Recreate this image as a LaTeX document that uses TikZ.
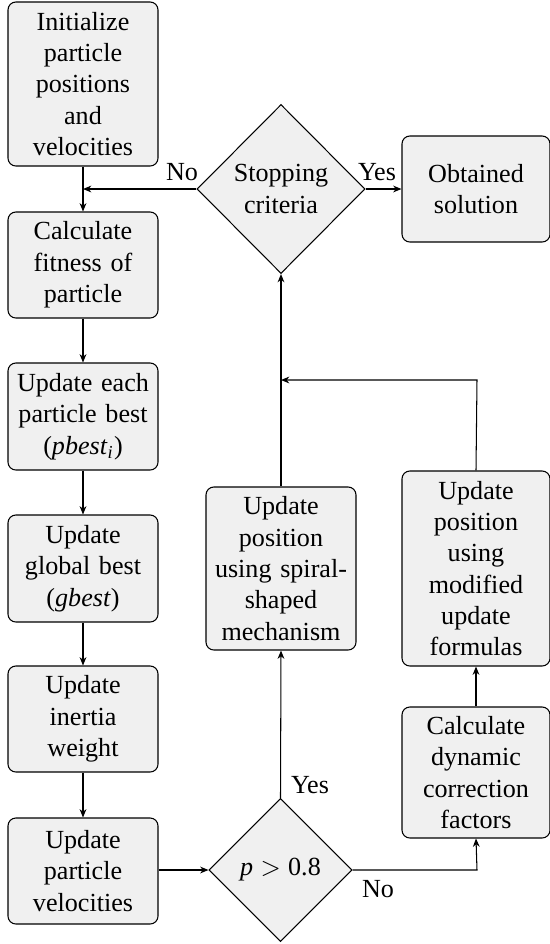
\documentclass[tikz,border=0pt]{standalone}
\usepackage{fontspec}
\setmainfont{Liberation Serif}
\usetikzlibrary{shapes.geometric,arrows.meta}
\definecolor{boxfill}{RGB}{240,240,240}
\tikzset{
  procbox/.style={draw, fill=boxfill, rounded corners=3pt, align=center,
    text width=53pt, inner sep=1pt, font=\fontsize{10}{12}\selectfont, line width=0.4pt},
  decbox/.style={draw, fill=boxfill, diamond, align=center, inner sep=0pt,
    font=\fontsize{10}{12}\selectfont, line width=0.4pt},
  conn/.style={-{Stealth[length=3.2pt,width=2.6pt]}, line width=0.4pt},
  lab/.style={font=\fontsize{10}{12}\selectfont, inner sep=0pt}
}
\begin{document}
\begin{tikzpicture}[x=0.383pt, y=-0.383pt]
\useasboundingbox (0,0) rectangle (550,944);
% left column
\node[procbox, minimum width={150*0.383pt}, minimum height={164*0.383pt}] (b1) at (83,84) {Initialize particle positions and velocities};
\node[procbox, minimum width={150*0.383pt}, minimum height={106*0.383pt}] (b2) at (83,265) {Calculate fitness of particle};
\node[procbox, minimum width={150*0.383pt}, minimum height={107*0.383pt}] (b3) at (83,416.5) {Update each particle best (\textit{pbest}\textsubscript{\textit{i}})};
\node[procbox, minimum width={150*0.383pt}, minimum height={107*0.383pt}] (b4) at (83,568.5) {Update global best (\textit{gbest})};
\node[procbox, minimum width={150*0.383pt}, minimum height={106*0.383pt}] (b5) at (83,719) {Update inertia weight};
\node[procbox, minimum width={150*0.383pt}, minimum height={106*0.383pt}] (b6) at (83,871) {Update particle velocities};
% decisions
\node[decbox, minimum width={168*0.383pt}, minimum height={169*0.383pt}] (stop) at (281,189) {Stopping\\criteria};
\node[decbox, minimum width={143*0.383pt}, minimum height={143*0.383pt}] (dec) at (280.5,870) {\textit{p}\hspace{0.28em}$>$\hspace{0.28em}0.8};
% right side
\node[procbox, minimum width={148*0.383pt}, minimum height={106*0.383pt}] (sol) at (476,189) {Obtained solution};
\node[procbox, minimum width={150*0.383pt}, minimum height={163*0.383pt}] (spiral) at (281,568.5) {Update position using spiral-shaped mechanism};
\node[procbox, minimum width={148*0.383pt}, minimum height={195*0.383pt}] (mod) at (476,568.5) {Update position using modified update formulas};
\node[procbox, minimum width={148*0.383pt}, minimum height={131*0.383pt}] (dyn) at (476,772.5) {Calculate dynamic correction factors};
% coordinates
\coordinate (j1) at (83,189);
\coordinate (j2) at (281,380);
\coordinate (c1) at (477,380);
\coordinate (c2) at (477,870);
% connectors
\draw[conn] (b1) -- (b2);
\draw[conn] (b2) -- (b3);
\draw[conn] (b3) -- (b4);
\draw[conn] (b4) -- (b5);
\draw[conn] (b5) -- (b6);
\draw[conn] (stop.west) -- (j1);
\draw[conn] (stop.east) -- (sol.west);
\draw[conn] (b6.east |- dec.west) -- (dec.west);
\draw[conn] (dec.north) -- (spiral.south);
\draw[conn] (dec.east) -- (c2) -- (dyn.south);
\draw[conn] (dyn.north) -- (mod.south);
\draw[conn] (mod.north) -- (c1) -- (j2);
\draw[conn] (spiral.north) -- (stop.south);
% labels
\node[lab] (lno1) at (182,172) {No};
\node[lab] (lyes1) at (377,172) {Yes};
\node[lab] (lyes2) at (310,785) {Yes};
\node[lab] (lno2) at (378,889) {No};
\end{tikzpicture}
\end{document}
